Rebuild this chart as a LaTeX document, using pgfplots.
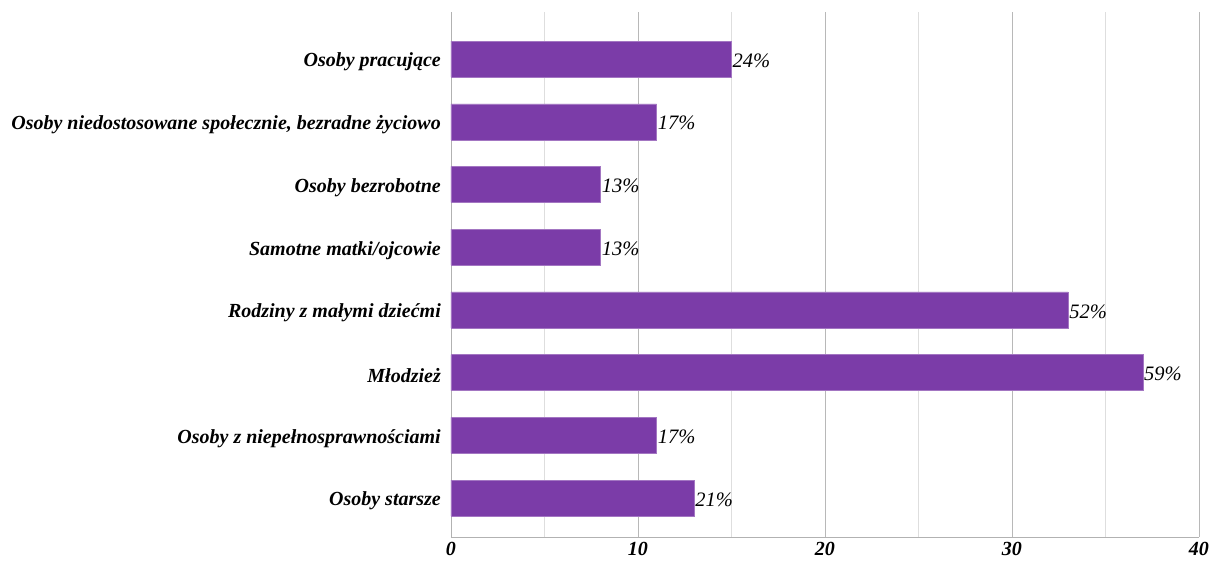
\documentclass[border=0pt]{standalone}
\usepackage{fontspec}
\setmainfont{Liberation Serif}
\usepackage{pgfplots}
\pgfplotsset{compat=1.18}
\usetikzlibrary{calc}
\definecolor{barpurple}{RGB}{123,60,168}
\begin{document}
\begin{tikzpicture}
\begin{axis}[
  scale only axis,
  width=748pt, height=525pt,
  xbar, bar width=36pt,
  xmin=0, xmax=40, ymin=-0.62, ymax=7.75,
  xtick={0,10,20,30,40},
  minor x tick num=1,
  xmajorgrids, xminorgrids,
  major grid style={draw=black!28, line width=0.8pt},
  minor grid style={draw=black!13, line width=0.8pt},
  axis x line*=bottom, axis y line*=left,
  axis line style={draw=black!30, line width=0.8pt, -},
  major tick length=0pt, minor tick length=0pt,
  ytick={0,...,7},
  yticklabels={Osoby starsze, Osoby z niepełnosprawnościami, Młodzież, Rodziny z małymi dziećmi, Samotne matki/ojcowie, Osoby bezrobotne, {Osoby niedostosowane społecznie, bezradne życiowo}, Osoby pracujące},
  tick label style={font=\fontsize{20}{22}\selectfont\bfseries\itshape},
  /pgf/number format/assume math mode=true,
  yticklabel style={inner sep=0pt, xshift=-10pt, yshift=-3pt},
  xticklabel style={inner sep=0pt, yshift=-5pt},
  point meta=explicit symbolic,
  nodes near coords,
  nodes near coords style={font=\fontsize{20.5}{22}\selectfont\itshape, anchor=west, inner sep=1pt, yshift=-1.5pt},
]
\addplot[fill=barpurple, draw=barpurple!70!white] coordinates {
  (13,0) [21\%]
  (11,1) [17\%]
  (37,2) [59\%]
  (33,3) [52\%]
  (8,4) [13\%]
  (8,5) [13\%]
  (11,6) [17\%]
  (15,7) [24\%]
};
\end{axis}
\useasboundingbox ($(current axis.south west)+(-451pt,-24pt)$) rectangle ($(current axis.north east)+(14pt,12pt)$);
\end{tikzpicture}
\end{document}
